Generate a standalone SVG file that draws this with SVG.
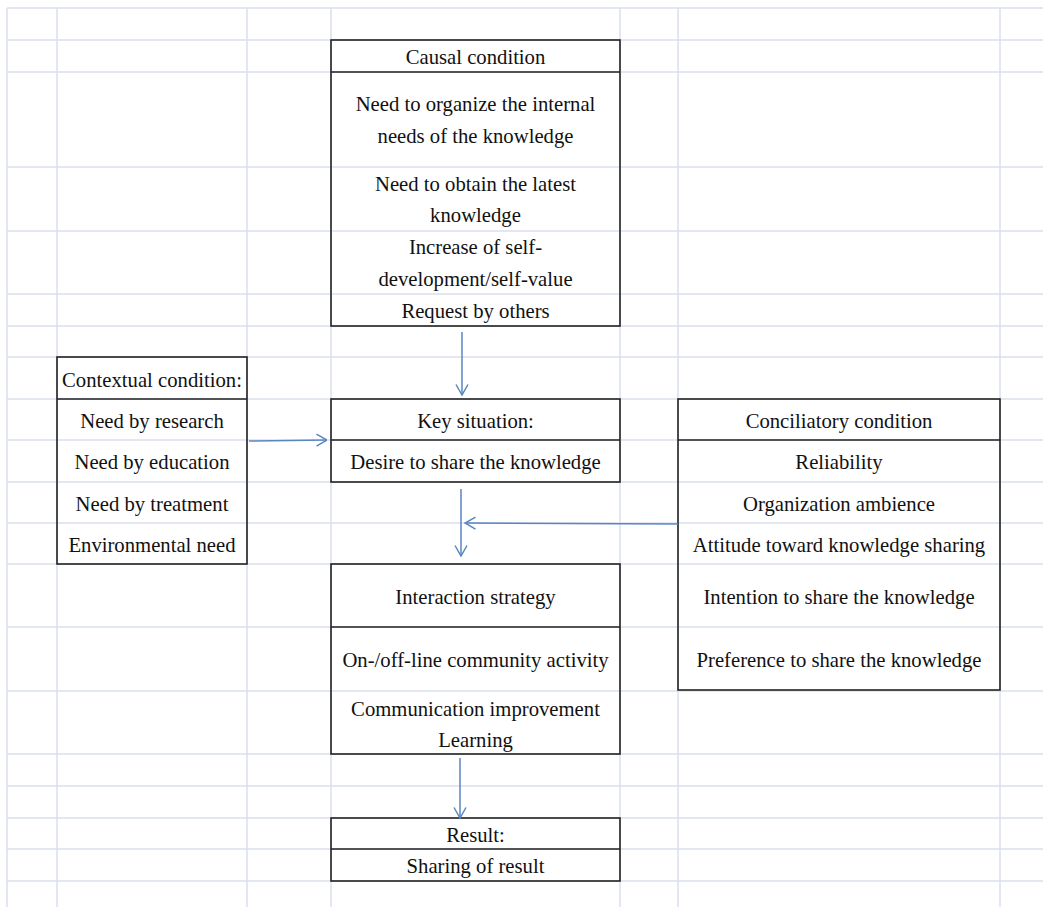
<svg xmlns="http://www.w3.org/2000/svg" width="1043" height="907" viewBox="0 0 1043 907">
<style>
.grid line{stroke:#d9dfec;stroke-width:1.5}
.box{fill:none;stroke:#222;stroke-width:1.6}
.div{stroke:#222;stroke-width:1.6}
text{font-family:"Liberation Serif","Times New Roman",serif;font-size:20.7px;fill:#111;text-anchor:middle}
.conn path{fill:none;stroke:#5a86c0;stroke-width:1.5}
</style>
<defs>
<marker id="arr" viewBox="0 0 12 14" refX="11.5" refY="7" markerWidth="12" markerHeight="14" markerUnits="userSpaceOnUse" orient="auto">
<path d="M1,1 L11.5,7 L1,13" fill="none" stroke="#5a86c0" stroke-width="1.5"/>
</marker>
</defs>
<rect width="1043" height="907" fill="#fff"/>
<g class="grid" id="grid">
<line x1="7" y1="8" x2="1043" y2="8"/>
<line x1="7" y1="40" x2="1043" y2="40"/>
<line x1="7" y1="72" x2="1043" y2="72"/>
<line x1="7" y1="167" x2="1043" y2="167"/>
<line x1="7" y1="231" x2="1043" y2="231"/>
<line x1="7" y1="294" x2="1043" y2="294"/>
<line x1="7" y1="326" x2="1043" y2="326"/>
<line x1="7" y1="357" x2="1043" y2="357"/>
<line x1="7" y1="399" x2="1043" y2="399"/>
<line x1="7" y1="440" x2="1043" y2="440"/>
<line x1="7" y1="482" x2="1043" y2="482"/>
<line x1="7" y1="523" x2="1043" y2="523"/>
<line x1="7" y1="564" x2="1043" y2="564"/>
<line x1="7" y1="627" x2="1043" y2="627"/>
<line x1="7" y1="691" x2="1043" y2="691"/>
<line x1="7" y1="754" x2="1043" y2="754"/>
<line x1="7" y1="786" x2="1043" y2="786"/>
<line x1="7" y1="818" x2="1043" y2="818"/>
<line x1="7" y1="849" x2="1043" y2="849"/>
<line x1="7" y1="881" x2="1043" y2="881"/>
<line x1="7" y1="8" x2="7" y2="907"/>
<line x1="57" y1="8" x2="57" y2="907"/>
<line x1="247" y1="8" x2="247" y2="907"/>
<line x1="331" y1="8" x2="331" y2="907"/>
<line x1="620" y1="8" x2="620" y2="907"/>
<line x1="678" y1="8" x2="678" y2="907"/>
<line x1="1000" y1="8" x2="1000" y2="907"/>
</g>
<g id="causal">
<rect class="box" x="331" y="40" width="289" height="286"/>
<line class="div" x1="331" y1="72" x2="620" y2="72"/>
<text x="475.5" y="64">Causal condition</text>
<text x="475.5" y="111">Need to organize the internal</text>
<text x="475.5" y="143">needs of the knowledge</text>
<text x="475.5" y="191">Need to obtain the latest</text>
<text x="475.5" y="222">knowledge</text>
<text x="475.5" y="254">Increase of self-</text>
<text x="475.5" y="286">development/self-value</text>
<text x="475.5" y="318">Request by others</text>
</g>
<g id="contextual">
<rect class="box" x="57" y="357" width="190" height="207"/>
<line class="div" x1="57" y1="399" x2="247" y2="399"/>
<text x="152" y="387">Contextual condition:</text>
<text x="152" y="428">Need by research</text>
<text x="152" y="469">Need by education</text>
<text x="152" y="511">Need by treatment</text>
<text x="152" y="552">Environmental need</text>
</g>
<g id="key">
<rect class="box" x="331" y="399" width="289" height="83"/>
<line class="div" x1="331" y1="440" x2="620" y2="440"/>
<text x="475.5" y="428">Key situation:</text>
<text x="475.5" y="469">Desire to share the knowledge</text>
</g>
<g id="conciliatory">
<rect class="box" x="678" y="399" width="322" height="291"/>
<line class="div" x1="678" y1="440" x2="1000" y2="440"/>
<text x="839" y="428">Conciliatory condition</text>
<text x="839" y="469">Reliability</text>
<text x="839" y="511">Organization ambience</text>
<text x="839" y="552">Attitude toward knowledge sharing</text>
<text x="839" y="604">Intention to share the knowledge</text>
<text x="839" y="667">Preference to share the knowledge</text>
</g>
<g id="interaction">
<rect class="box" x="331" y="564" width="289" height="190"/>
<line class="div" x1="331" y1="627" x2="620" y2="627"/>
<text x="475.5" y="604">Interaction strategy</text>
<text x="475.5" y="667">On-/off-line community activity</text>
<text x="475.5" y="716">Communication improvement</text>
<text x="475.5" y="747">Learning</text>
</g>
<g id="result">
<rect class="box" x="331" y="818" width="289" height="63"/>
<line class="div" x1="331" y1="849" x2="620" y2="849"/>
<text x="475.5" y="842">Result:</text>
<text x="475.5" y="873">Sharing of result</text>
</g>
<g class="conn" id="connectors">
<path d="M462,332 L462,395" marker-end="url(#arr)"/>
<path d="M249,441 L327,440" marker-end="url(#arr)"/>
<path d="M461,489 L461,556" marker-end="url(#arr)"/>
<path d="M678,524 L465,523" marker-end="url(#arr)"/>
<path d="M460,758 L460,818" marker-end="url(#arr)"/>
</g>
</svg>
